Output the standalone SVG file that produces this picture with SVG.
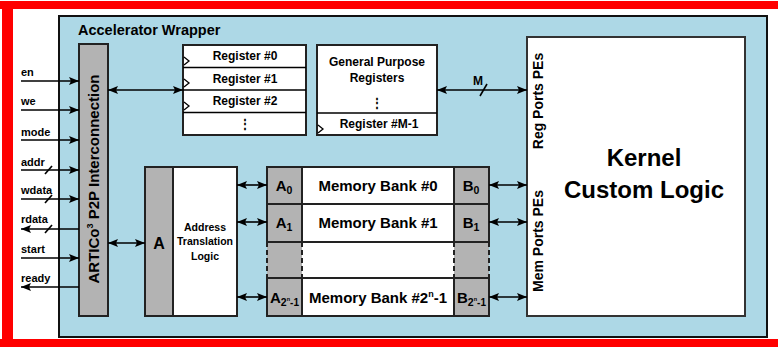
<svg xmlns="http://www.w3.org/2000/svg" width="778" height="347" viewBox="0 0 778 347">
<style>
text{font-family:"Liberation Sans",Arial,sans-serif;font-weight:bold;fill:#000}
.box{fill:#fff;stroke:#222;stroke-width:2}
.gray{fill:#b3b3b3;stroke:#222;stroke-width:2}
.ln{stroke:#000;stroke-width:1.6;fill:none}
.ck{fill:#fff;stroke:#000;stroke-width:1.3}
.sig{font-size:11px}
.reg{font-size:12px}
.mem{font-size:15px}
.vt{font-size:14px}
</style>
<defs>
<marker id="ah" markerUnits="userSpaceOnUse" markerWidth="10" markerHeight="8" refX="10" refY="4" orient="auto-start-reverse">
<path d="M0,0 L10,4 L0,8 L2,4 z" fill="#000"/>
</marker>
</defs>
<rect width="778" height="347" fill="#fff"/>
<g id="frame">
<rect x="0" y="1" width="778" height="8" fill="#f00"/>
<rect x="2" y="1" width="11" height="346" fill="#f00"/>
<rect x="0" y="339" width="778" height="8" fill="#f00"/>
</g>
<g id="wrapper">
<rect x="59" y="16" width="708" height="321" fill="#add8e6" stroke="#111" stroke-width="2"/>
<text x="78" y="35" font-size="14.5">Accelerator Wrapper</text>
</g>
<g id="interconnect">
<rect x="79" y="44" width="29" height="272" class="gray"/>
<text transform="translate(99,179) rotate(-90)" text-anchor="middle" font-size="15">ARTICo<tspan font-size="9" dy="-6">3</tspan><tspan dy="6"> P2P Interconnection</tspan></text>
</g>
<g id="signals">
<text x="21" y="76" class="sig">en</text>
<text x="21" y="105" class="sig">we</text>
<text x="21" y="136" class="sig">mode</text>
<text x="21" y="166" class="sig">addr</text>
<text x="21" y="194" class="sig">wdata</text>
<text x="21" y="223" class="sig">rdata</text>
<text x="21" y="253" class="sig">start</text>
<text x="21" y="282" class="sig">ready</text>
</g>
<g id="registers">
<rect x="183" y="45" width="123" height="90" class="box"/>
<line x1="183" y1="67.5" x2="306" y2="67.5" class="ln"/>
<line x1="183" y1="90" x2="306" y2="90" class="ln"/>
<line x1="183" y1="112.5" x2="306" y2="112.5" class="ln"/>
<path d="M184,57 L189,61 L184,65" class="ck"/>
<path d="M184,79 L189,83 L184,87" class="ck"/>
<path d="M184,102 L189,106 L184,110" class="ck"/>
<text x="245" y="60" text-anchor="middle" class="reg">Register #0</text>
<text x="245" y="83" text-anchor="middle" class="reg">Register #1</text>
<text x="245" y="105" text-anchor="middle" class="reg">Register #2</text>
<text x="245" y="128" text-anchor="middle" class="reg" font-family="'DejaVu Sans',sans-serif">⋮</text>
</g>
<g id="gpr">
<rect x="317" y="45" width="120" height="90" class="box"/>
<line x1="317" y1="113" x2="437" y2="113" class="ln"/>
<path d="M318,125 L323,129 L318,133" class="ck"/>
<text x="377" y="66" text-anchor="middle" class="reg">General Purpose</text>
<text x="377" y="82" text-anchor="middle" class="reg">Registers</text>
<text x="377" y="107" text-anchor="middle" class="reg" font-family="'DejaVu Sans',sans-serif">⋮</text>
<text x="379" y="128" text-anchor="middle" class="reg">Register #M-1</text>
</g>
<g id="kernel">
<rect x="527" y="37" width="218" height="279" fill="#fff" stroke="#333" stroke-width="2"/>
<text transform="translate(543,101) rotate(-90)" text-anchor="middle" class="vt">Reg Ports PEs</text>
<text transform="translate(543,241) rotate(-90)" text-anchor="middle" class="vt">Mem Ports PEs</text>
<text x="644" y="166" text-anchor="middle" font-size="24">Kernel</text>
<text x="644" y="198" text-anchor="middle" font-size="24">Custom Logic</text>
</g>
<g id="addr-bar">
<rect x="145" y="167" width="28" height="149" class="gray"/>
<text x="159" y="249" text-anchor="middle" font-size="16">A</text>
</g>
<g id="addr-logic">
<rect x="173" y="167" width="64" height="149" class="box"/>
<text x="205" y="231" text-anchor="middle" font-size="10.5">Address</text>
<text x="205" y="245" text-anchor="middle" font-size="10.5">Translation</text>
<text x="205" y="260" text-anchor="middle" font-size="10.5">Logic</text>
</g>
<g id="memory">
<rect x="267" y="242" width="35" height="36" fill="#b3b3b3"/>
<rect x="454" y="242" width="35" height="36" fill="#b3b3b3"/>
<rect x="302" y="242" width="152" height="36" fill="#fff"/>
<g stroke="#222" stroke-width="2" stroke-dasharray="5,3">
<line x1="267" y1="242" x2="267" y2="278"/>
<line x1="302" y1="242" x2="302" y2="278"/>
<line x1="454" y1="242" x2="454" y2="278"/>
<line x1="489" y1="242" x2="489" y2="278"/>
</g>
<rect x="267" y="167" width="35" height="37" class="gray"/>
<rect x="302" y="167" width="152" height="37" class="box"/>
<rect x="454" y="167" width="35" height="37" class="gray"/>
<rect x="267" y="204" width="35" height="38" class="gray"/>
<rect x="302" y="204" width="152" height="38" class="box"/>
<rect x="454" y="204" width="35" height="38" class="gray"/>
<rect x="267" y="278" width="35" height="38" class="gray"/>
<rect x="302" y="278" width="152" height="38" class="box"/>
<rect x="454" y="278" width="35" height="38" class="gray"/>
<text x="284" y="191" text-anchor="middle" class="mem">A<tspan font-size="10.5" dy="3">0</tspan></text>
<text x="284" y="228" text-anchor="middle" class="mem">A<tspan font-size="10.5" dy="3">1</tspan></text>
<text x="284.5" y="303" text-anchor="middle" class="mem">A<tspan font-size="10.5" dy="3">2</tspan><tspan font-size="5.5" dy="-5">n</tspan><tspan font-size="10" dy="5">-1</tspan></text>
<text x="471" y="191" text-anchor="middle" class="mem">B<tspan font-size="10.5" dy="3">0</tspan></text>
<text x="471" y="228" text-anchor="middle" class="mem">B<tspan font-size="10.5" dy="3">1</tspan></text>
<text x="471.5" y="303" text-anchor="middle" class="mem">B<tspan font-size="10.5" dy="3">2</tspan><tspan font-size="5.5" dy="-5">n</tspan><tspan font-size="10" dy="5">-1</tspan></text>
<text x="378" y="191" text-anchor="middle" class="mem">Memory Bank #0</text>
<text x="378" y="228" text-anchor="middle" class="mem">Memory Bank #1</text>
<text x="378" y="303" text-anchor="middle" class="mem">Memory Bank #2<tspan font-size="9" dy="-6">n</tspan><tspan dy="6">-1</tspan></text>
</g>
<g id="connectors" class="ln">
<line x1="21" y1="81" x2="79" y2="81" marker-end="url(#ah)"/>
<line x1="21" y1="110" x2="79" y2="110" marker-end="url(#ah)"/>
<line x1="21" y1="140" x2="79" y2="140" marker-end="url(#ah)"/>
<line x1="21" y1="170" x2="79" y2="170" marker-end="url(#ah)"/>
<line x1="21" y1="199" x2="79" y2="199" marker-end="url(#ah)"/>
<line x1="79" y1="229" x2="21" y2="229" marker-end="url(#ah)"/>
<line x1="21" y1="258" x2="79" y2="258" marker-end="url(#ah)"/>
<line x1="79" y1="287" x2="21" y2="287" marker-end="url(#ah)"/>
<line x1="45" y1="174" x2="52" y2="166"/>
<line x1="45" y1="203" x2="52" y2="195"/>
<line x1="45" y1="233" x2="52" y2="225"/>
<line x1="108" y1="90" x2="183" y2="90" marker-start="url(#ah)" marker-end="url(#ah)"/>
<line x1="437" y1="90" x2="527" y2="90" marker-start="url(#ah)" marker-end="url(#ah)"/>
<line x1="480" y1="96" x2="487" y2="84"/>
<line x1="108" y1="243" x2="145" y2="243" marker-start="url(#ah)" marker-end="url(#ah)"/>
<line x1="237" y1="185" x2="267" y2="185" marker-start="url(#ah)" marker-end="url(#ah)"/>
<line x1="237" y1="222" x2="267" y2="222" marker-start="url(#ah)" marker-end="url(#ah)"/>
<line x1="237" y1="297" x2="267" y2="297" marker-start="url(#ah)" marker-end="url(#ah)"/>
<line x1="489" y1="185" x2="527" y2="185" marker-start="url(#ah)" marker-end="url(#ah)"/>
<line x1="489" y1="222" x2="527" y2="222" marker-start="url(#ah)" marker-end="url(#ah)"/>
<line x1="489" y1="297" x2="527" y2="297" marker-start="url(#ah)" marker-end="url(#ah)"/>
</g>
<text x="478" y="85" text-anchor="middle" font-size="12">M</text>
</svg>
